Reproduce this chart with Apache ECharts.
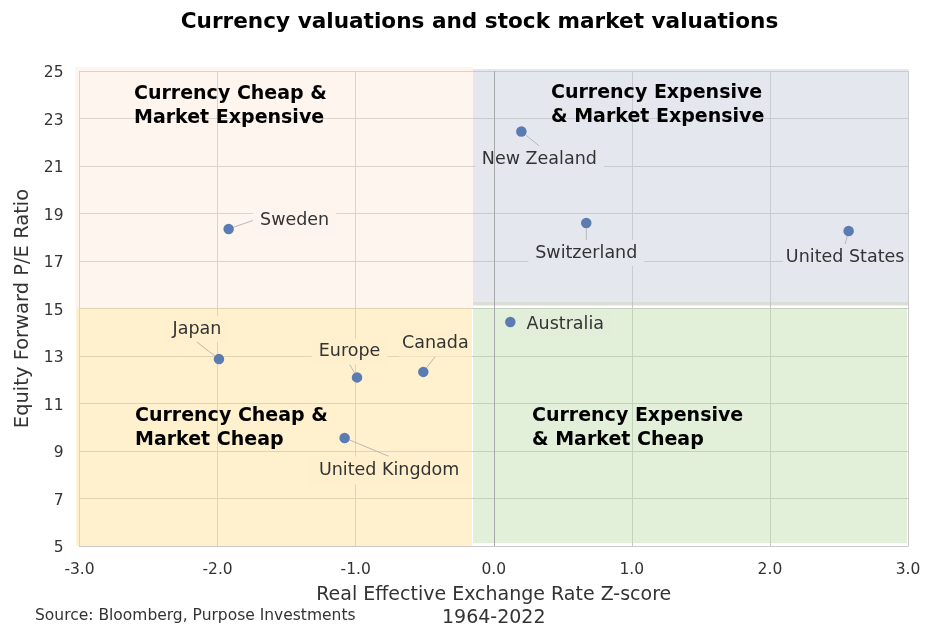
<!DOCTYPE html>
<html>
<head>
<meta charset="utf-8">
<style>
  html, body { margin: 0; padding: 0; background: #fff; }
  #main { width: 927px; height: 629px; }
</style>
<script src="https://cdn.jsdelivr.net/npm/echarts@6/dist/echarts.min.js"></script>
</head>
<body>
<div id="main"></div>
<script>
var countries = ['Sweden', 'New Zealand', 'Switzerland', 'United States', 'Australia', 'Japan', 'Europe', 'Canada', 'United Kingdom'];
var zScores = [-1.92, 0.2, 0.67, 2.57, 0.12, -1.99, -0.99, -0.51, -1.08];
var peRatios = [18.35, 22.45, 18.6, 18.26, 14.43, 12.87, 12.1, 12.33, 9.55];

// where each label sits relative to its dot, its padding, and the colour behind it
var labelShift = [[66, -8.5], [18, 27.5], [0, 30], [-3.5, 26], [55, 2], [-22, -30], [-7.5, -26], [12, -28.5], [44.5, 32.5]];
var labelPad = [[4, 7], [4, 7], [4, 7], [4, 3], [4, 7], [4, 7], [4, 7], [4, 3], [5, 11]];
var labelBack = ['#fdf4ee', '#e4e7ed', '#e4e7ed', '#e4e7ed', '#e2eeda', '#fff0cd', '#fff0cd', '#fff0cd', '#fff0cd'];

var font = '"DejaVu Sans"';
var textColor = '#333333';

var points = countries.map(function (name, i) {
    return {
        name: name,
        value: [zScores[i], peRatios[i]],
        label: { backgroundColor: labelBack[i], padding: labelPad[i] },
        labelLine: { show: name !== 'Australia' }
    };
});

function zoneText(text, left, top) {
    return {
        type: 'text',
        z: 100,
        left: left,
        top: top,
        style: { text: text, font: 'bold 19px ' + font, fill: '#000', lineHeight: 24 }
    };
}

var myChart = echarts.init(document.getElementById('main'));

var option = {
    animation: false,
    title: {
        text: 'Currency valuations and stock market valuations',
        left: 474.5,
        top: 6,
        textAlign: 'center',
        textStyle: { fontFamily: font, fontSize: 21.6, fontWeight: 'bold', color: '#000' }
    },
    grid: { left: 79.5, right: 19, top: 71, bottom: 83, outerBoundsMode: 'none' },
    xAxis: {
        type: 'value',
        min: -3,
        max: 3,
        interval: 1,
        axisLine: { onZero: false, lineStyle: { color: '#c9c9c9' } },
        axisTick: { show: false },
        axisLabel: {
            fontFamily: font, fontSize: 15.5, color: textColor, margin: 16,
            formatter: function (v) { return v.toFixed(1); }
        },
        splitLine: { show: true, lineStyle: { color: '#c9c9c9' } },
        name: 'Real Effective Exchange Rate Z-score\n1964-2022',
        nameLocation: 'middle',
        nameGap: 38,
        nameTextStyle: { fontFamily: font, fontSize: 19, color: textColor, lineHeight: 23, verticalAlign: 'top' }
    },
    yAxis: {
        type: 'value',
        min: 5,
        max: 25,
        interval: 2,
        axisLine: { show: false, onZero: false },
        axisTick: { show: false },
        axisLabel: { fontFamily: font, fontSize: 15.5, color: textColor, margin: 16, verticalAlign: 'top', lineHeight: 4 },
        splitLine: { show: true, lineStyle: { color: '#c9c9c9' } },
        name: 'Equity Forward P/E Ratio',
        nameLocation: 'middle',
        nameGap: 35,
        nameTextStyle: { fontFamily: font, fontSize: 19.5, color: textColor }
    },
    graphic: [
        zoneText('Currency Cheap &\nMarket Expensive', 134, 82),
        zoneText('Currency Expensive\n& Market Expensive', 551, 81),
        zoneText('Currency Cheap &\nMarket Cheap', 135, 404),
        zoneText('Currency Expensive\n& Market Cheap', 532, 404),
        {
            type: 'text',
            z: 100,
            left: 35,
            top: 608,
            style: { text: 'Source: Bloomberg, Purpose Investments', font: '15.5px ' + font, fill: textColor }
        }
    ],
    series: [{
        type: 'scatter',
        clip: false,
        data: points,
        symbolSize: 10.5,
        itemStyle: { color: '#5b7bb3', opacity: 1 },
        label: {
            show: true,
            position: 'inside',
            formatter: '{b}',
            fontFamily: font,
            fontSize: 17.5,
            color: textColor
        },
        labelLine: { show: true, lineStyle: { color: '#b8b8b8', width: 1 } },
        labelLayout: function (params) {
            var shift = labelShift[params.dataIndex];
            return { dx: shift[0], dy: shift[1] };
        },
        markLine: {
            silent: true,
            symbol: 'none',
            label: { show: false },
            lineStyle: { color: '#a6a8aa', type: 'solid', width: 1 },
            data: [{ xAxis: 0 }]
        },
        // the shaded zones run slightly past the plot edges, so these are placed on the page
        markArea: {
            silent: true,
            data: [
                [{ x: 75, y: 67, itemStyle: { color: 'rgba(251,226,208,0.35)' } }, { x: 473, y: 308 }],
                [{ x: 473, y: 69, itemStyle: { color: 'rgba(198,205,218,0.48)' } }, { x: 908.5, y: 302 }],
                [{ x: 473, y: 302, itemStyle: { color: 'rgba(190,195,180,0.55)' } }, { x: 908.5, y: 305.5 }],
                [{ x: 473, y: 308, itemStyle: { color: 'rgba(190,220,170,0.45)' } }, { x: 907, y: 543 }],
                [{ x: 76, y: 308, itemStyle: { color: 'rgba(255,224,150,0.47)' } }, { x: 472, y: 546 }]
            ]
        }
    }]
};

myChart.setOption(option);
</script>
</body>
</html>
